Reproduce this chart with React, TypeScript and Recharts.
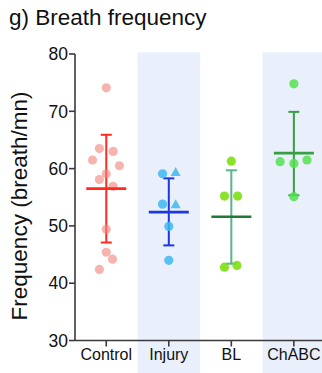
import React from 'react';
import {
  ComposedChart, Scatter, XAxis, YAxis, ErrorBar, ReferenceArea, Label,
} from 'recharts';

const categories = ['Control', 'Injury', 'BL', 'ChABC'];
const yTicks = [30, 40, 50, 60, 70, 80];

// individual values (breath/mn) and horizontal jitter (in category units)
const controlValues = [74.1, 63.5, 63.0, 61.5, 60.5, 59.1, 58.1, 56.9, 49.4, 45.4, 44.2, 42.4];
const controlJitter = [0, -0.11, 0.11, -0.22, 0.21, 0, -0.11, 0.11, 0, 0, 0.1, -0.11];
const injuryCircleValues = [59.1, 53.8, 49.9, 44.0];
const injuryCircleJitter = [-0.1, -0.1, 0, 0];
const injuryTriangleValues = [59.3, 53.7];
const injuryTriangleJitter = [0.11, 0.11];
const blValues = [61.3, 55.2, 55.2, 42.8, 43.1];
const blJitter = [0, -0.11, 0.1, -0.11, 0.09];
const chabcValues = [74.8, 61.2, 60.9, 61.5, 55.1];
const chabcJitter = [0, -0.22, 0, 0.21, 0];

// mean and error-bar limits
const means = [56.5, 52.4, 51.6, 62.7];
const lowers = [47.1, 46.6, 43.4, 55.35];
const uppers = [65.9, 58.3, 59.7, 69.9];

const pointColors = ['#f2867e', '#3fb9f0', '#7ee012', '#52e04e'];
const meanColors = ['#ff2b1f', '#1c36e0', '#1f7a36', '#36a040'];
const barColors = ['#ff2b1f', '#1c36e0', '#58b48c', '#36a040'];

const FONT = '"Liberation Sans", Arial, Helvetica, sans-serif';

const pts = (vals: number[], jit: number[], idx: number) =>
  vals.map((v, i) => ({ x: idx + jit[i], y: v }));

const meanData = (idx: number) => [
  { x: idx, y: means[idx], err: [means[idx] - lowers[idx], uppers[idx] - means[idx]] },
];

const circleShape = (color: string, op: number) => (p: any) => (
  <circle cx={p.cx} cy={p.cy} r={4.6} fill={color} fillOpacity={op} />
);
const triangleShape = (color: string, op: number) => (p: any) => (
  <path
    d={`M${p.cx},${p.cy - 5.5} L${p.cx + 5},${p.cy + 3.5} L${p.cx - 5},${p.cy + 3.5} Z`}
    fill={color}
    fillOpacity={op}
  />
);
const meanShape = (color: string) => (p: any) => (
  <line x1={p.cx - 20} x2={p.cx + 20} y1={p.cy} y2={p.cy} stroke={color} strokeWidth={2.6} />
);

const yLabel = () => {
  const cx = 19;
  const cy = 206;
  return (
    <text
      x={cx}
      y={cy}
      transform={`rotate(-90, ${cx}, ${cy})`}
      textAnchor="middle"
      dominantBaseline="central"
      fontSize={22.5}
      fill="#111"
      fontFamily={FONT}
    >
      Frequency (breath/mn)
    </text>
  );
};

export default function App() {
  return (
    <div style={{ position: 'absolute', left: 0, top: 0, width: 322, height: 373, background: '#fff', overflow: 'hidden' }}>
      <div
        style={{
          position: 'absolute', left: 9, top: 7, fontSize: 22.5, lineHeight: '22px',
          fontFamily: FONT, color: '#111', whiteSpace: 'nowrap',
        }}
      >
        g) Breath frequency
      </div>
      <ComposedChart
        width={322}
        height={373}
        margin={{ top: 54, right: 0, bottom: 0, left: 0 }}
        style={{ fontFamily: FONT }}
      >
        <XAxis
          type="number"
          dataKey="x"
          domain={[-0.5, 3.45]}
          allowDataOverflow
          ticks={[0, 1, 2, 3]}
          tickFormatter={(v: number) => categories[v]}
          height={32.5}
          stroke="#3a3a3a"
          strokeWidth={1.6}
          tickSize={6}
          tickMargin={2}
          tick={{ fill: '#111', fontSize: 16 }}
        />
        <YAxis
          type="number"
          dataKey="y"
          domain={[30, 80]}
          ticks={yTicks}
          width={75}
          stroke="#3a3a3a"
          strokeWidth={1.6}
          tickSize={6}
          tickMargin={1}
          tick={{ fill: '#111', fontSize: 17.5 }}
        >
          <Label content={yLabel} />
        </YAxis>
        <ReferenceArea x1={0.5} x2={1.5} y1={24} y2={80.3} ifOverflow="visible" fill="#e9f0fc" fillOpacity={1} stroke="none" />
        <ReferenceArea x1={2.5} x2={3.45} y1={24} y2={80.3} ifOverflow="visible" fill="#e9f0fc" fillOpacity={1} stroke="none" />

        <Scatter data={pts(controlValues, controlJitter, 0)} shape={circleShape(pointColors[0], 0.62)} isAnimationActive={false} />
        <Scatter data={pts(injuryCircleValues, injuryCircleJitter, 1)} shape={circleShape(pointColors[1], 0.85)} isAnimationActive={false} />
        <Scatter data={pts(injuryTriangleValues, injuryTriangleJitter, 1)} shape={triangleShape(pointColors[1], 0.85)} isAnimationActive={false} />
        <Scatter data={pts(blValues, blJitter, 2)} shape={circleShape(pointColors[2], 0.9)} isAnimationActive={false} />
        <Scatter data={pts(chabcValues, chabcJitter, 3)} shape={circleShape(pointColors[3], 0.85)} isAnimationActive={false} />

        {categories.map((c, i) => (
          <Scatter key={c} data={meanData(i)} shape={meanShape(meanColors[i])} isAnimationActive={false}>
            <ErrorBar dataKey="err" direction="y" width={5.5} stroke={barColors[i]} strokeWidth={2} isAnimationActive={false} />
          </Scatter>
        ))}
      </ComposedChart>
    </div>
  );
}
